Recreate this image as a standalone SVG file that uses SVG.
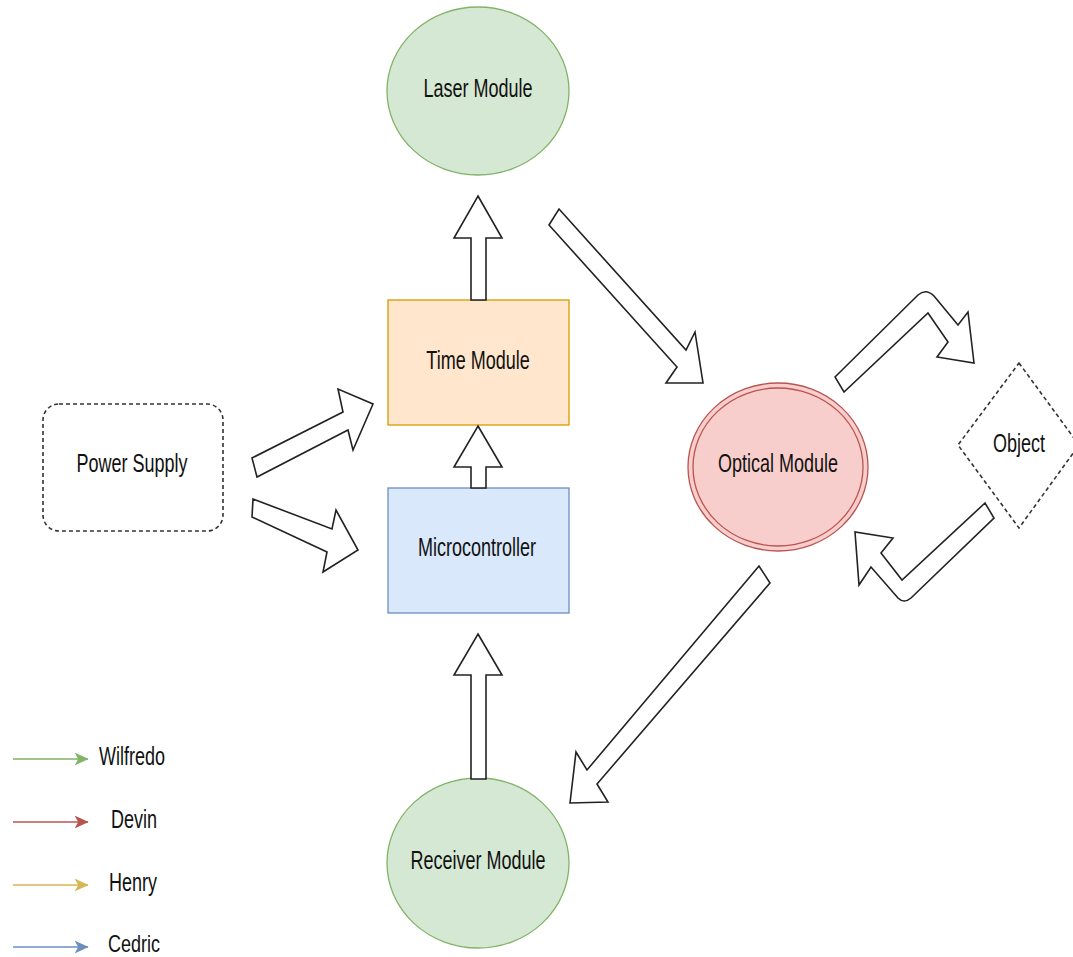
<svg xmlns="http://www.w3.org/2000/svg" width="1073" height="957" viewBox="0 0 1073 957">
<style>
.lbl{font-family:"Liberation Sans",Arial,sans-serif;font-size:18px;fill:#111;text-anchor:middle}
.blk{fill:#fff;stroke:#222;stroke-width:1.6;stroke-linejoin:miter}
.dash{fill:#fff;stroke:#333;stroke-width:1.6;stroke-dasharray:4 3}
.green{fill:#d5e8d4;stroke:#82b366;stroke-width:1.3}
</style>
<defs>
<marker id="mg" viewBox="0 0 10 10" refX="9.5" refY="5" markerWidth="14" markerHeight="14" markerUnits="userSpaceOnUse" orient="auto"><path d="M0,0.5 L10,5 L0,9.5 L2.5,5 Z" fill="#82b366"/></marker>
<marker id="mr" viewBox="0 0 10 10" refX="9.5" refY="5" markerWidth="14" markerHeight="14" markerUnits="userSpaceOnUse" orient="auto"><path d="M0,0.5 L10,5 L0,9.5 L2.5,5 Z" fill="#b85450"/></marker>
<marker id="my" viewBox="0 0 10 10" refX="9.5" refY="5" markerWidth="14" markerHeight="14" markerUnits="userSpaceOnUse" orient="auto"><path d="M0,0.5 L10,5 L0,9.5 L2.5,5 Z" fill="#d6b656"/></marker>
<marker id="mb" viewBox="0 0 10 10" refX="9.5" refY="5" markerWidth="14" markerHeight="14" markerUnits="userSpaceOnUse" orient="auto"><path d="M0,0.5 L10,5 L0,9.5 L2.5,5 Z" fill="#6c8ebf"/></marker>
</defs>
<rect width="1073" height="957" fill="#fff"/>

<g id="laser-module">
<ellipse class="green" cx="478" cy="91" rx="91" ry="84"/>
<text class="lbl" transform="translate(478,97) scale(1,1.38)">Laser Module</text>
</g>
<g id="time-module">
<rect x="388" y="300" width="181" height="125" fill="#ffe6cc" stroke="#d79b00" stroke-width="1.3"/>
<text class="lbl" transform="translate(478,369) scale(1,1.38)">Time Module</text>
</g>
<g id="microcontroller">
<rect x="388" y="488" width="181" height="125" fill="#dae8fc" stroke="#6c8ebf" stroke-width="1.3"/>
<text class="lbl" transform="translate(477,556) scale(1,1.38)">Microcontroller</text>
</g>
<g id="receiver-module">
<ellipse class="green" cx="478" cy="863" rx="91" ry="85"/>
<text class="lbl" transform="translate(478,869) scale(1,1.38)">Receiver Module</text>
</g>
<g id="power-supply">
<rect class="dash" x="43" y="404" width="180" height="127" rx="16" ry="16"/>
<text class="lbl" transform="translate(132,472) scale(1,1.38)">Power Supply</text>
</g>
<g id="optical-module">
<ellipse cx="778" cy="467" rx="90" ry="84" fill="#f8cecc" stroke="#b85450" stroke-width="1.3"/>
<ellipse cx="778" cy="467" rx="85" ry="79" fill="none" stroke="#b85450" stroke-width="1.3"/>
<text class="lbl" transform="translate(778,472) scale(1,1.38)">Optical Module</text>
</g>
<g id="object">
<polygon class="dash" points="1019,363 1079,445 1019,528 958,445"/>
<text class="lbl" transform="translate(1019,452) scale(1,1.38)">Object</text>
</g>

<g id="connectors">
<polygon class="blk" points="478,196 502,238 486,238 486,300 471,300 471,238 454,238"/>
<polygon class="blk" points="478,426 502,467 486,467 486,488 471,488 471,467 454,467"/>
<polygon class="blk" points="478,634 502,675 486,675 486,779 471,779 471,675 454,675"/>
<polygon class="blk" points="559,209 686,350 695,332 703,383 666,383 677,367 549,225"/>
<polygon class="blk" points="759,566 587,770 576,752 570,803 608,802 597,784 770,583"/>
<polygon class="blk" points="252,458 343,412 338,389 373,404 353,450 348,430 257,477"/>
<polygon class="blk" points="253,499 332,529 336,510 358,550 323,572 327,552 252,517"/>
<path class="blk" d="M835,377 L918,295 Q926,288 934,296 L958,325 L968,312 L974,363 L937,357 L948,342 L928,313 L844,392 Z"/>
<path class="blk" d="M985,503 L902,580 L881,553 L893,538 L855,532 L859,585 L871,567 L898,598 Q904,604 911,598 L994,518 Z"/>
</g>

<g id="legend">
<g id="legend-wilfredo">
<line x1="13" y1="759" x2="88" y2="759" stroke="#82b366" stroke-width="1.5" marker-end="url(#mg)"/>
<text class="lbl" transform="translate(132,765) scale(1,1.38)">Wilfredo</text>
</g>
<g id="legend-devin">
<line x1="13" y1="822" x2="88" y2="822" stroke="#b85450" stroke-width="1.5" marker-end="url(#mr)"/>
<text class="lbl" transform="translate(134,828) scale(1,1.38)">Devin</text>
</g>
<g id="legend-henry">
<line x1="13" y1="885" x2="88" y2="885" stroke="#d6b656" stroke-width="1.5" marker-end="url(#my)"/>
<text class="lbl" transform="translate(133,891) scale(1,1.38)">Henry</text>
</g>
<g id="legend-cedric">
<line x1="13" y1="947" x2="88" y2="947" stroke="#6c8ebf" stroke-width="1.5" marker-end="url(#mb)"/>
<text class="lbl" transform="translate(134,952) scale(1,1.36)">Cedric</text>
</g>
</g>
</svg>
